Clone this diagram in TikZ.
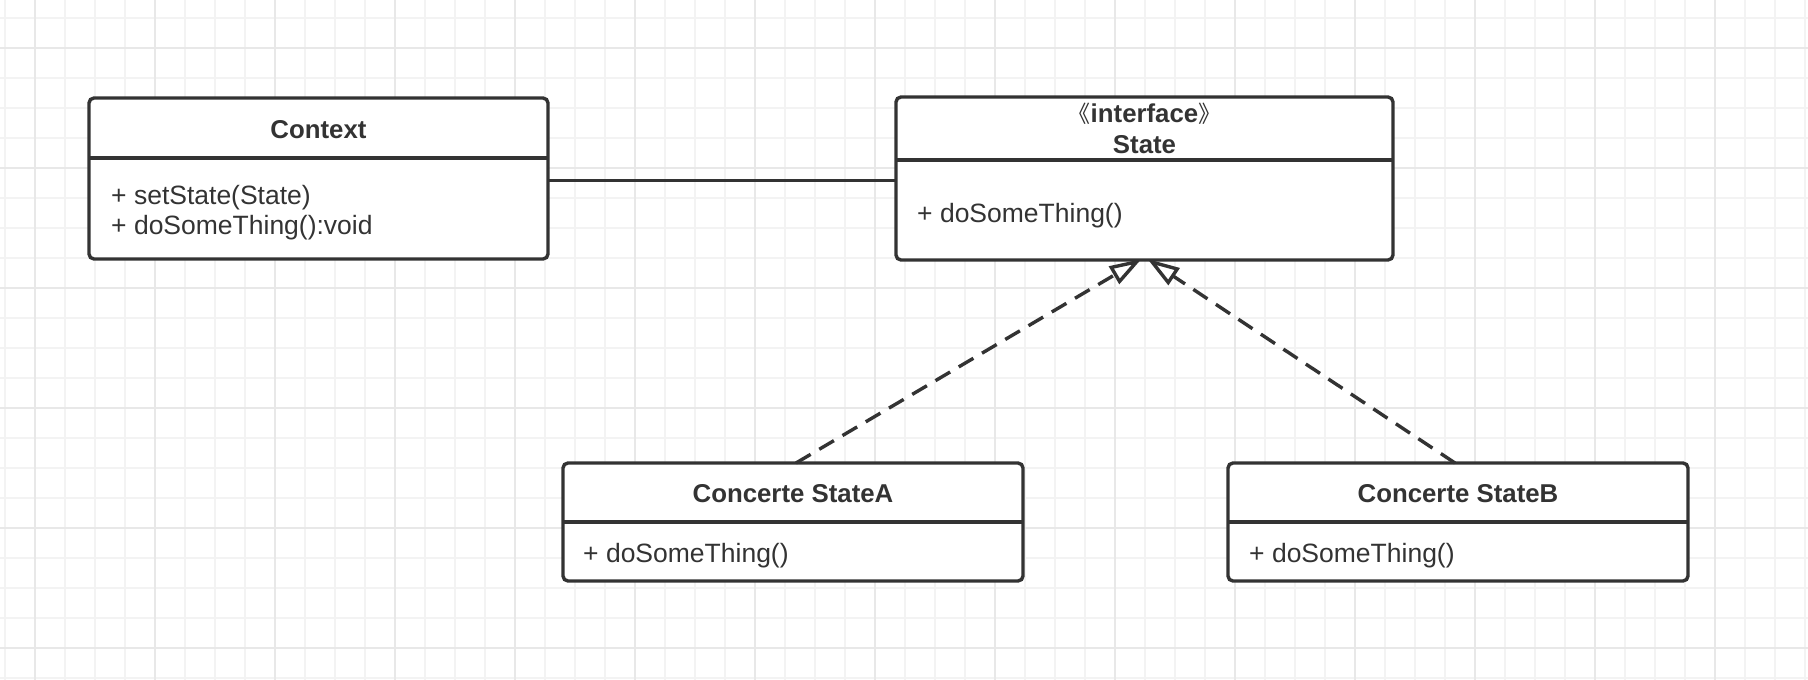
\documentclass[tikz,border=0pt]{standalone}
\usepackage{fontspec}
\setmainfont{Liberation Sans}
\newfontfamily\cjkfont{Noto Sans CJK SC}
\usetikzlibrary{arrows.meta}
\definecolor{ink}{HTML}{333333}
\definecolor{gridminor}{HTML}{F3F3F3}
\definecolor{gridmajor}{HTML}{E8E8E8}
\begin{document}
\begin{tikzpicture}[x=1pt,y=-1pt,
  umlbox/.style={draw=ink, line width=3.4pt, rounded corners=5pt, fill=white, inner sep=0pt, outer sep=0pt},
  divider/.style={draw=ink, line width=3.4pt},
  title/.style={font=\fontsize{25.8}{30}\selectfont\bfseries, text=ink, inner sep=0pt, anchor=base},
  member/.style={font=\fontsize{26.5}{30}\selectfont, text=ink, inner sep=0pt, anchor=base west},
  realize/.style={draw=ink, line width=3.4pt, dash pattern=on 17pt off 10pt, -{Triangle[length=32pt,width=20pt,fill=white,line width=3.4pt]}},
  assoc/.style={draw=ink, line width=3.4pt}]
\useasboundingbox (0,0) rectangle (1808,680);
\fill[white] (0,0) rectangle (1808,680);
\foreach \x in {5,35,...,1805} \draw[gridminor, line width=1.5pt] (\x,0) -- (\x,680);
\foreach \y in {18,48,...,678} \draw[gridminor, line width=1.5pt] (0,\y) -- (1808,\y);
\foreach \x in {35,155,...,1800} \draw[gridmajor, line width=2pt] (\x,0) -- (\x,680);
\foreach \y in {48,168,...,678} \draw[gridmajor, line width=2pt] (0,\y) -- (1808,\y);

% Context
\node[umlbox, minimum width=459pt, minimum height=161pt] (ctx) at (318.5,178.5) {};
\draw[divider] (ctx.west |- 0,158) -- (ctx.east |- 0,158);
\node[title] (ctxt) at (318.5,138) {Context};
\node[member] (ctxm1) at (111,204) {+ setState(State)};
\node[member] (ctxm2) at (111,234) {+ doSomeThing():void};

% State
\node[umlbox, minimum width=497pt, minimum height=163pt] (state) at (1144.5,178.5) {};
\draw[divider] (state.west |- 0,160) -- (state.east |- 0,160);
\node[title] (stst) at (1144.5,122) {{\cjkfont\fontsize{23}{30}\selectfont\mdseries 《}interface{\cjkfont\fontsize{23}{30}\selectfont\mdseries 》}};
\node[title] (stt) at (1144.5,153) {State};
\node[member] (stm) at (917,222) {+ doSomeThing()};

% Concerte StateA
\node[umlbox, minimum width=460pt, minimum height=118pt] (sa) at (793,522) {};
\draw[divider] (sa.west |- 0,522) -- (sa.east |- 0,522);
\node[title] (sat) at (793,502) {Concerte StateA};
\node[member] (sam) at (583,562) {+ doSomeThing()};

% Concerte StateB
\node[umlbox, minimum width=460pt, minimum height=118pt] (sb) at (1458,522) {};
\draw[divider] (sb.west |- 0,522) -- (sb.east |- 0,522);
\node[title] (sbt) at (1458,502) {Concerte StateB};
\node[member] (sbm) at (1249,562) {+ doSomeThing()};

% connectors
\draw[assoc] ([yshift=-2pt]ctx.east) -- ([yshift=-2pt]state.west);
\draw[realize] ([xshift=3pt]sa.north) -- ([xshift=-3pt,yshift=1pt]state.south);
\draw[realize] ([xshift=-3pt]sb.north) -- ([xshift=3pt,yshift=1pt]state.south);
\end{tikzpicture}
\end{document}
